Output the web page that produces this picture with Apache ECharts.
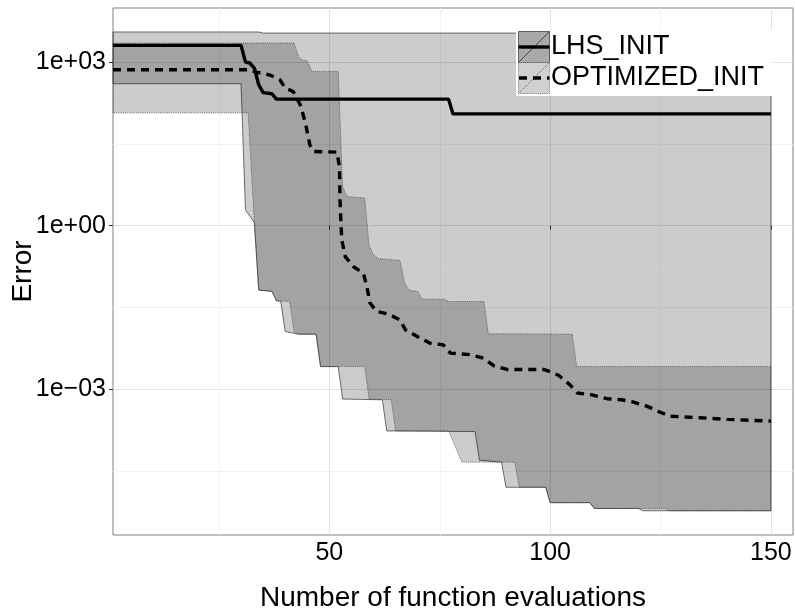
<!DOCTYPE html>
<html>
<head>
<meta charset="utf-8">
<script src="https://cdn.jsdelivr.net/npm/echarts@6/dist/echarts.min.js"></script>
<style>
  html, body { margin: 0; padding: 0; background: #fff; }
  #chart { width: 795px; height: 615px; }
</style>
</head>
<body>
<div id="chart"></div>
<script>
// values: [evaluations, error]
const lhsUpper = [[1, 3560], [34, 3560], [35, 3400], [150, 3400]];
const lhsLower = [[1, 400], [30, 400], [31, 1.95], [33, 1.14], [34, 0.066], [37, 0.062], [38, 0.042],
  [39, 0.0405], [40, 0.0114], [43, 0.0102], [47, 0.0102], [48, 0.0026], [52, 0.0026], [53, 6.6e-4],
  [62, 6.4e-4], [63, 1.72e-4], [83, 1.67e-4], [84, 5.0e-5], [89, 4.6e-5], [90, 1.59e-5], [99, 1.59e-5],
  [100, 8.3e-6], [109, 8.3e-6], [110, 6.5e-6], [120, 6.5e-6], [121, 5.9e-6], [150, 5.9e-6]];
const optUpper = [[1, 2230], [42, 2230], [43, 1250], [44, 1080], [45, 1050], [46, 673], [52, 673],
  [53, 5.2], [54, 3.4], [58, 3.2], [59, 0.43], [60, 0.29], [61, 0.25], [66, 0.229], [67, 0.09],
  [68, 0.066], [70, 0.062], [71, 0.0448], [76, 0.0448], [77, 0.0405], [85, 0.0405], [86, 0.0104],
  [105, 0.0102], [106, 0.0026], [150, 0.0026]];
const optLower = [[1, 117], [31.6, 117], [33, 1.2], [34, 0.066], [37, 0.062], [38, 0.042], [41, 0.0405],
  [42, 0.0114], [43, 0.0102], [47, 0.0102], [48, 0.0026], [58, 0.0026], [59, 6.6e-4], [64, 6.4e-4],
  [65, 1.72e-4], [77, 1.72e-4], [80, 4.6e-5], [92, 4.6e-5], [93, 1.59e-5], [99, 1.59e-5], [100, 8.3e-6],
  [109, 8.3e-6], [110, 6.5e-6], [126, 6.5e-6], [127, 5.9e-6], [150, 5.9e-6]];
const lhsMedian = [[1, 2018], [30, 2018], [31, 1000], [32, 960], [33, 776], [34, 383], [35, 275],
  [37, 262], [38, 209], [77, 209], [78, 112], [150, 112]];
const optMedian = [[1, 723], [32, 723], [33.5, 644], [35, 629], [36.9, 561], [38.8, 473], [40, 333],
  [41.8, 289], [43.4, 165], [44.5, 81], [45.6, 30], [46.4, 22.9], [51.7, 22.3], [52.3, 12], [52.4, 3.0],
  [52.8, 0.55], [53.6, 0.27], [55.4, 0.178], [57.7, 0.134], [58.5, 0.076], [59.2, 0.038], [60.7, 0.0266],
  [63.4, 0.0238], [66, 0.0187], [67.2, 0.0123], [70.6, 0.0086], [72.8, 0.007], [75.8, 0.0065],
  [77.4, 0.0046], [81.9, 0.0043], [84.9, 0.0037], [87.2, 0.0027], [90.2, 0.0023], [98.5, 0.0023],
  [100, 0.0021], [101.9, 0.0018], [104.5, 0.0012], [106.2, 8.5e-4], [109.4, 7.9e-4], [112.9, 6.7e-4],
  [116.1, 6.4e-4], [118.5, 5.9e-4], [121.9, 4.9e-4], [124.5, 3.9e-4], [127.2, 3.2e-4], [133.9, 3.0e-4],
  [140, 2.8e-4], [150, 2.6e-4]];

const seriesNames = ["LHS_INIT", "OPTIMIZED_INIT"];
const xTicks = [50, 100, 150];
const xMinor = [25, 75, 125];
const yTicks = [1e-3, 1, 1e3];
const yMinor = [3.16e-5, 0.0316, 31.6];

const FONT = "'Liberation Sans', Arial, sans-serif";
const lg = (v) => Math.log10(v);
const toLog = (arr) => arr.map(([x, v]) => [x, lg(v)]);

// ribbon polygon: upper left->right then lower right->left
const ribbon = (up, lo) => toLog(up.concat(lo.slice().reverse()));

function ribbonRenderer(dash) {
  return function (params, api) {
    if (params.dataIndexInside !== 0) return null;
    const pts = [];
    for (let i = 0; i < params.dataInsideLength; i++) {
      pts.push(api.coord([api.value(0, i), api.value(1, i)]));
    }
    return {
      type: "polygon",
      shape: { points: pts },
      style: {
        fill: "rgba(0,0,0,0.2)",
        stroke: "#333",
        lineWidth: 0.7,
        lineDash: dash
      }
    };
  };
}

const gridLines = [].concat(
  xMinor.map((v) => ({ xAxis: v, lineStyle: { color: "#f2f2f2", width: 1, type: "solid" } })),
  yMinor.map((v) => ({ yAxis: lg(v), lineStyle: { color: "#f2f2f2", width: 1, type: "solid" } })),
  xTicks.map((v) => ({ xAxis: v, lineStyle: { color: "#e3e3e3", width: 1, type: "solid" } })),
  yTicks.map((v) => ({ yAxis: lg(v), lineStyle: { color: "#e3e3e3", width: 1, type: "solid" } }))
);

const fmtY = (v) => {
  const e = Math.round(v);
  const s = String(Math.abs(e)).padStart(2, "0");
  return "1e" + (e < 0 ? "\u2212" : "+") + s;
};

const chart = echarts.init(document.getElementById("chart"));

const option = {
  animation: false,
  backgroundColor: "#fff",
  textStyle: { fontFamily: FONT },
  grid: {
    left: 113, right: 2, top: 8, bottom: 80,
    outerBoundsMode: "none",
    containLabel: false,
    show: true, borderColor: "#7f7f7f", borderWidth: 1, backgroundColor: "transparent"
  },
  xAxis: {
    type: "value",
    min: 1,
    max: 155,
    name: "Number of function evaluations",
    nameLocation: "middle",
    nameGap: 49,
    nameMoveOverlap: false,
    nameTextStyle: { fontFamily: FONT, fontSize: 28, color: "#000" },
    axisLine: { show: false },
    splitLine: { show: false },
    axisTick: { show: true, customValues: xTicks, length: 4, lineStyle: { color: "#333" } },
    axisLabel: { customValues: xTicks, fontFamily: FONT, fontSize: 25, color: "#000", margin: 6 }
  },
  yAxis: {
    type: "value",
    min: lg(2.12e-6),
    max: lg(9800),
    name: "Error",
    nameLocation: "middle",
    nameGap: 76,
    nameMoveOverlap: false,
    nameTextStyle: { fontFamily: FONT, fontSize: 28, color: "#000" },
    axisLine: { show: false },
    splitLine: { show: false },
    axisTick: { show: true, customValues: yTicks.map(lg), length: 4, lineStyle: { color: "#333" } },
    axisLabel: { customValues: yTicks.map(lg), formatter: fmtY, fontFamily: FONT, fontSize: 25, color: "#000", margin: 7 }
  },
  series: [
    {
      name: "grid",
      type: "line",
      data: [],
      z: 0,
      silent: true,
      markLine: {
        z: 0,
        silent: true,
        symbol: "none",
        label: { show: false },
        emphasis: { disabled: true },
        data: gridLines
      }
    },
    {
      name: seriesNames[0] + " range",
      type: "custom",
      z: 5,
      silent: true,
      renderItem: ribbonRenderer(null),
      data: ribbon(lhsUpper, lhsLower)
    },
    {
      name: seriesNames[1] + " range",
      type: "custom",
      z: 5,
      silent: true,
      renderItem: ribbonRenderer([1, 1.2]),
      data: ribbon(optUpper, optLower)
    },
    {
      name: seriesNames[0],
      type: "line",
      z: 6,
      showSymbol: false,
      symbol: "none",
      lineStyle: { color: "#000", width: 3.4, cap: "butt" },
      data: toLog(lhsMedian)
    },
    {
      name: seriesNames[1],
      type: "line",
      z: 6,
      showSymbol: false,
      symbol: "none",
      lineStyle: { color: "#000", width: 3.4, type: [8, 6], cap: "butt" },
      data: toLog(optMedian)
    }
  ],
  graphic: [
    { type: "rect", z: 100, shape: { x: 516, y: 30, width: 256, height: 66 }, style: { fill: "#fff" } },
    { type: "rect", z: 101, shape: { x: 518.5, y: 31.5, width: 31, height: 31 },
      style: { fill: "#a9a9a9", stroke: "#444", lineWidth: 0.8 } },
    { type: "line", z: 102, shape: { x1: 518.5, y1: 62.5, x2: 549.5, y2: 31.5 },
      style: { stroke: "#333", lineWidth: 0.8 } },
    { type: "line", z: 103, shape: { x1: 518.5, y1: 47, x2: 549.5, y2: 47 },
      style: { stroke: "#000", lineWidth: 3.4 } },
    { type: "rect", z: 101, shape: { x: 518.5, y: 62.5, width: 31, height: 31 },
      style: { fill: "#d0d0d0", stroke: "#444", lineWidth: 0.8, lineDash: [1, 1.2] } },
    { type: "line", z: 102, shape: { x1: 518.5, y1: 93.5, x2: 549.5, y2: 62.5 },
      style: { stroke: "#333", lineWidth: 0.8, lineDash: [1, 1.2] } },
    { type: "line", z: 103, shape: { x1: 519, y1: 78, x2: 549.5, y2: 78 },
      style: { stroke: "#000", lineWidth: 3.4, lineDash: [8, 6] } },
    { type: "text", z: 104, x: 551, y: 47,
      style: { text: seriesNames[0], font: "27px " + FONT, fill: "#000", textVerticalAlign: "middle", verticalAlign: "middle" } },
    { type: "text", z: 104, x: 551, y: 78,
      style: { text: seriesNames[1], font: "27px " + FONT, fill: "#000", textVerticalAlign: "middle", verticalAlign: "middle" } }
  ]
};

chart.setOption(option);
</script>
</body>
</html>
